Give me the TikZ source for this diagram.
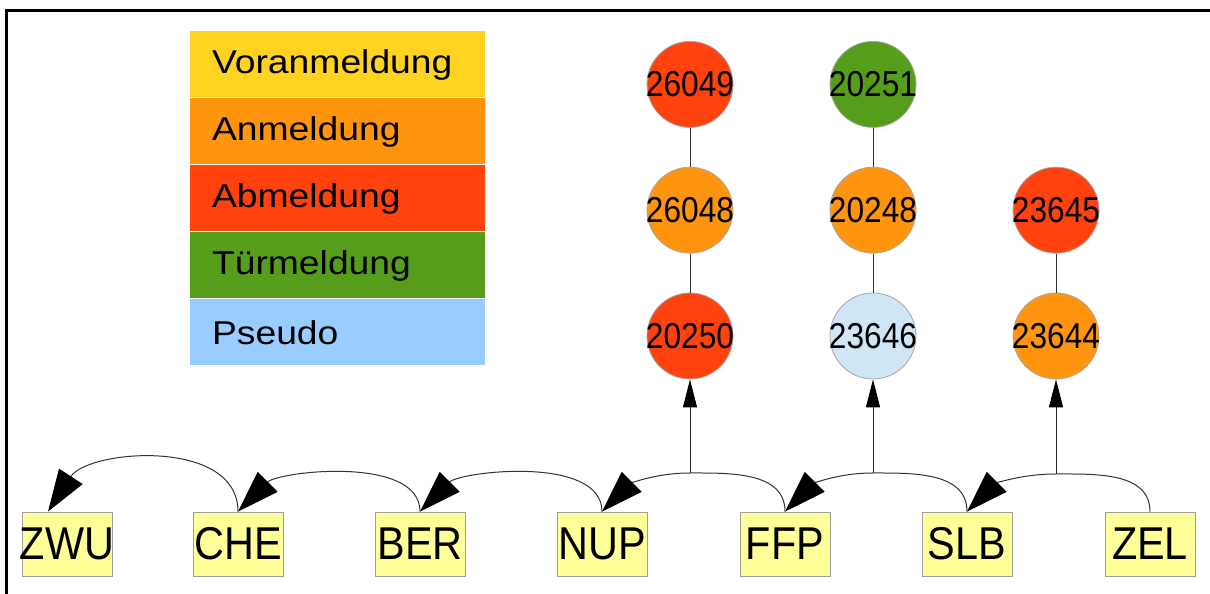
\documentclass[tikz,border=0pt]{standalone}
\usepackage{fontspec}
\setmainfont{Liberation Sans}
\usetikzlibrary{arrows.meta,positioning}
\definecolor{voran}{HTML}{FFD320}
\definecolor{anm}{HTML}{FF950E}
\definecolor{abm}{HTML}{FF420E}
\definecolor{tuer}{HTML}{579D1C}
\definecolor{pseudo}{HTML}{99CCFF}
\definecolor{pseudolight}{HTML}{CFE7F5}
\definecolor{stationfill}{HTML}{FFFF99}
\tikzset{
  legendrow/.style={rectangle, draw=white, line width=0.5pt, outer sep=0pt,
    minimum height=33.5pt, text width=125pt, inner xsep=11.5pt, inner ysep=0pt,
    align=left, font=\fontsize{16.5}{16.5}\selectfont},
  station/.style={rectangle, draw=gray!75, fill=stationfill, minimum width=45pt,
    minimum height=32pt, inner sep=0pt, font=\fontsize{23}{23}\selectfont},
  meldung/.style={circle, draw=gray!70, minimum size=43pt, inner sep=0pt,
    font=\fontsize{18}{18}\selectfont},
  link/.style={draw=black!80, line width=0.5pt},
  flow/.style={draw=black!80, line width=0.5pt, -{Triangle[length=21pt,width=14pt,color=black]}},
  toevent/.style={draw=black!85, line width=0.5pt, -{Triangle[length=14pt,width=7pt,color=black]}}
}
\newcommand{\stn}[1]{\makebox[0pt]{\scalebox{0.9}[1]{#1}}}
\newcommand{\num}[1]{\makebox[0pt]{\scalebox{0.88}[1]{#1}}}
\newcommand{\leg}[1]{\scalebox{1.13}[1]{#1}}
\begin{document}
\begin{tikzpicture}[x=0.5pt,y=0.5pt]
  \useasboundingbox (0,0) rectangle (1210,594);
  % Frame
  \draw[line width=1.5pt] (6,0) -- (6,583.5) -- (1210,583.5);
  % Legend
  \node[legendrow, fill=voran] (voran) at (337,529.5) {\leg{Voranmeldung}};
  \node[legendrow, fill=anm, below=0pt of voran] (anm) {\leg{Anmeldung}};
  \node[legendrow, fill=abm, below=0pt of anm] (abm) {\leg{Abmeldung}};
  \node[legendrow, fill=tuer, below=0pt of abm] (tuer) {\leg{Türmeldung}};
  \node[legendrow, fill=pseudo, below=0pt of tuer] (pseudo) {\leg{Pseudo}};
  % Stations
  \node[station] (ZWU) at (67,50) {\stn{ZWU}};
  \node[station] (CHE) at (238,50) {\stn{CHE}};
  \node[station] (BER) at (420,50) {\stn{BER}};
  \node[station] (NUP) at (602,50) {\stn{NUP}};
  \node[station] (FFP) at (785,50) {\stn{FFP}};
  \node[station] (SLB) at (967,50) {\stn{SLB}};
  \node[station] (ZEL) at (1150,50) {\stn{ZEL}};
  % Events
  \node[meldung, fill=abm] (e20250) at (690,258) {\num{20250}};
  \node[meldung, fill=anm, above=19.5pt of e20250] (e26048) {\num{26048}};
  \node[meldung, fill=abm, above=19.5pt of e26048] (e26049) {\num{26049}};
  \node[meldung, fill=pseudolight] (e23646) at (873,258) {\num{23646}};
  \node[meldung, fill=anm, above=19.5pt of e23646] (e20248) {\num{20248}};
  \node[meldung, fill=tuer, above=19.5pt of e20248] (e20251) {\num{20251}};
  \node[meldung, fill=anm] (e23644) at (1056,258) {\num{23644}};
  \node[meldung, fill=abm, above=19.5pt of e23644] (e23645) {\num{23645}};
  \draw[link] (e26049) -- (e26048) -- (e20250);
  \draw[link] (e20251) -- (e20248) -- (e23646);
  \draw[link] (e23645) -- (e23644);
  % Junctions
  \coordinate (j1) at (690,121);
  \coordinate (j2) at (873,121);
  \coordinate (j3) at (1056,120);
  % Track
  \draw[flow] (CHE.north) to[out=90,in=57] ([xshift=-9.5pt]ZWU.north);
  \draw[flow] (BER.north) to[out=90,in=45,looseness=0.8] (CHE.north);
  \draw[flow] (NUP.north) to[out=90,in=45,looseness=0.8] (BER.north);
  \draw[flow] (FFP.north) to[out=90,in=0] (j1) to[out=180,in=45] (NUP.north);
  \draw[flow] (SLB.north) to[out=90,in=0] (j2) to[out=180,in=45] (FFP.north);
  \draw[flow] (ZEL.north) to[out=90,in=0] (j3) to[out=180,in=45] (SLB.north);
  \draw[toevent] (j1) -- (e20250);
  \draw[toevent] (j2) -- (e23646);
  \draw[toevent] (j3) -- (e23644);
\end{tikzpicture}
\end{document}
